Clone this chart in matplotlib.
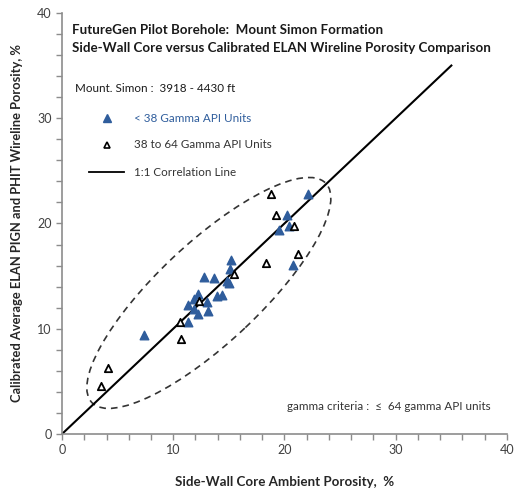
import matplotlib
matplotlib.use('Agg')
import matplotlib.pyplot as plt
from matplotlib.patches import Ellipse

plt.rcParams['font.family'] = ['Lato', 'DejaVu Sans']

# side-wall core porosity (x) vs calibrated ELAN porosity (y), %
low_gr_x = [7.4, 11.3, 11.9, 12.2, 13.1, 11.3, 11.9, 12.2, 13.0, 13.9, 14.4,
            12.8, 13.7, 14.8, 15.0, 15.1, 15.2, 19.5, 20.2, 20.4, 20.8, 22.1]
low_gr_y = [9.4, 10.6, 11.9, 11.4, 11.7, 12.3, 12.8, 13.3, 12.5, 13.1, 13.2,
            14.9, 14.8, 14.5, 14.3, 15.7, 16.5, 19.4, 20.8, 19.8, 16.1, 22.8]

mid_gr_x = [3.5, 4.1, 10.6, 10.7, 12.3, 15.5, 18.3, 18.8, 19.2, 20.9, 21.2]
mid_gr_y = [4.6, 6.3, 10.6, 9.0, 12.6, 15.2, 16.2, 22.8, 20.8, 19.8, 17.1]

line_x = [0, 35]
line_y = [0, 35]

blue = '#2f5d9c'
grey = '#8c8c8c'

fig = plt.figure(figsize=(5.15, 4.96), dpi=100)
ax = fig.add_axes([0.1204, 0.125, 0.864, 0.849])

ax.plot(line_x, line_y, color='black', lw=1.5, zorder=2)
ax.scatter(low_gr_x, low_gr_y, marker='^', s=38, color=blue, zorder=3)
ax.scatter(mid_gr_x, mid_gr_y, marker='^', s=28, facecolor='white',
           edgecolor='black', linewidth=1.3, zorder=4)

# dashed envelope around the data
ell = Ellipse((13.2, 13.4), width=29.6, height=9.3, angle=45,
              fill=False, ls=(0, (4, 3)), lw=1.2, color='#333333')
ax.add_patch(ell)

ax.set_xlim(0, 40)
ax.set_ylim(0, 40)
ax.set_xticks([0, 10, 20, 30, 40])
ax.set_yticks([0, 10, 20, 30, 40])
ax.set_xticks(range(0, 41, 2), minor=True)
ax.set_yticks(range(0, 41, 2), minor=True)
ax.tick_params(which='both', direction='out', color=grey, length=4,
               width=1, labelsize=9, labelcolor='#404040')
for s in ['top', 'right']:
    ax.spines[s].set_visible(False)
for s in ['left', 'bottom']:
    ax.spines[s].set_color(grey)
    ax.spines[s].set_linewidth(1.2)

ax.set_xlabel('Side-Wall Core Ambient Porosity,  %', fontsize=9.6,
              fontweight='bold', color='#262626', labelpad=14)
ax.set_ylabel('Calibrated Average ELAN PIGN and PHIT Wireline Porosity, %',
              fontsize=9.3, fontweight='bold', color='#262626', labelpad=10)

# title block and hand-made legend
fig.text(72 / 515, 1 - 30 / 496, 'FutureGen Pilot Borehole:  Mount Simon Formation',
         fontsize=9.6, fontweight='bold', color='#1a1a1a', va='center')
fig.text(72 / 515, 1 - 48 / 496,
         'Side-Wall Core versus Calibrated ELAN Wireline Porosity Comparison',
         fontsize=9.6, fontweight='bold', color='#1a1a1a', va='center')
fig.text(75 / 515, 1 - 88 / 496, 'Mount. Simon :  3918 - 4430 ft',
         fontsize=8.4, color='#1a1a1a', va='center')

fig.lines.append(plt.Line2D([107 / 515], [1 - 118 / 496], marker='^', ms=6,
                            color=blue, ls='none', transform=fig.transFigure))
fig.text(134 / 515, 1 - 118 / 496, '< 38 Gamma API Units', fontsize=8.4,
         color=blue, va='center')
fig.lines.append(plt.Line2D([107 / 515], [1 - 145 / 496], marker='^', ms=5,
                            mfc='white', mec='black', mew=1.2, ls='none',
                            transform=fig.transFigure))
fig.text(134 / 515, 1 - 145 / 496, '38 to 64 Gamma API Units', fontsize=8.4,
         color='#333333', va='center')
fig.lines.append(plt.Line2D([89 / 515, 124 / 515], [1 - 172 / 496] * 2,
                            color='black', lw=1.3, transform=fig.transFigure))
fig.text(134 / 515, 1 - 172 / 496, '1:1 Correlation Line', fontsize=8.4,
         color='#333333', va='center')

fig.text(287 / 515, 1 - 407 / 496, 'gamma criteria :  \u2264  64 gamma API units',
         fontsize=8.4, color='#333333', va='center')

fig.savefig('out.png', dpi=100)
